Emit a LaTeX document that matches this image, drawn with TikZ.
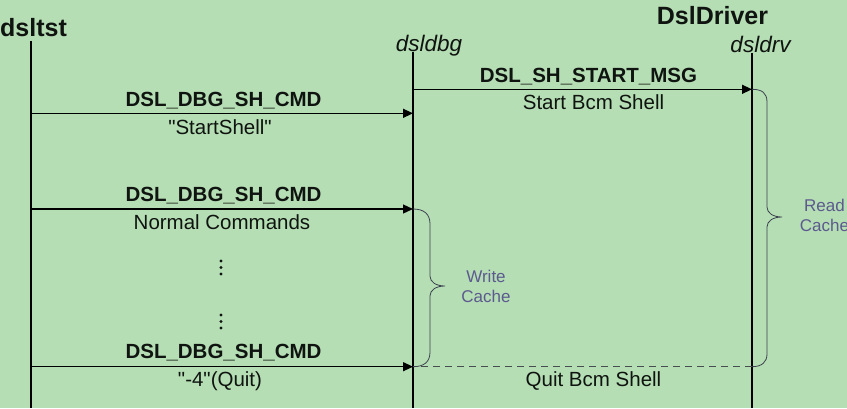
\documentclass[tikz,border=0pt]{standalone}
\usepackage{fontspec}
\setmainfont{Liberation Sans}[Ligatures=TeXOff]
\usetikzlibrary{arrows.meta}
\definecolor{bgc}{RGB}{181,222,180}
\definecolor{txt}{RGB}{16,20,16}
\definecolor{bracec}{RGB}{60,66,80}
\definecolor{bracetxt}{RGB}{92,90,142}
\definecolor{dashc}{RGB}{70,78,80}
\newcommand{\sq}{\char34}
\tikzset{
  lbl/.style={inner sep=0pt, anchor=base, text=txt, font=\fontsize{20.5}{22}\selectfont},
  blbl/.style={lbl, font=\fontsize{20.5}{22}\selectfont\bfseries},
  hdr/.style={inner sep=0pt, anchor=base, text=txt, font=\fontsize{25}{28}\selectfont\bfseries},
  ihdr/.style={inner sep=0pt, anchor=base, text=txt, font=\fontsize{22.5}{25}\selectfont\itshape},
  lifeline/.style={draw=black, line width=1.5pt},
  msg/.style={draw=black, line width=1.3pt, -{Triangle[length=10pt,width=9pt]}},
  reply/.style={draw=dashc, line width=1.3pt, dash pattern=on 7pt off 5pt},
  bracel/.style={draw=bracec, line width=0.8pt},
  bracetext/.style={inner sep=0pt, align=center, text=bracetxt, font=\fontsize{17}{20}\selectfont},
  vdot/.style={fill=txt, draw=none, circle, inner sep=0pt, minimum size=3.4pt}
}
\begin{document}
\begin{tikzpicture}[x=1pt,y=-1pt]
\fill[bgc] (0,0) rectangle (847,408);
\useasboundingbox (0,0) rectangle (847,408);

% headers
\node[hdr, anchor=base west] (hdsltst) at (0,36.5) {dsltst};
\node[hdr] (hdrv) at (712.5,24) {DslDriver};
\node[ihdr] (hdbg) at (429,51.7) {dsldbg};
\node[ihdr] (hdrvi) at (760.5,52.5) {dsldrv};

% lifelines
\coordinate (tTop) at (31,40.7);
\coordinate (tBot) at (31,408);
\coordinate (gTop) at (413,51.7);
\coordinate (gBot) at (413,408);
\coordinate (dTop) at (752,52.7);
\coordinate (dBot) at (752,408);
\draw[lifeline] (tTop) -- (tBot);
\draw[lifeline] (gTop) -- (gBot);
\draw[lifeline] (dTop) -- (dBot);

% message points
\coordinate (t1) at (31,113.3);
\coordinate (g1) at (413,113.3);
\coordinate (g2) at (413,89.3);
\coordinate (d2) at (752,89.3);
\coordinate (t3) at (31,209);
\coordinate (g3) at (413,209);
\coordinate (t5) at (31,366.7);
\coordinate (g5) at (413,366.7);
\coordinate (d5) at (752,366.7);

% replies / braces first (under arrows)
\draw[reply] (d5) -- (g5);

\draw[bracel] (g3) .. controls (424,209) and (430,214) .. (430,224) -- (430,276)
  .. controls (430,282) and (436,286) .. (445,286)
  .. controls (436,286) and (430,290) .. (430,296) -- (430,352)
  .. controls (430,362) and (424,366.7) .. (g5);
\draw[bracel] (d2) .. controls (762,89.3) and (767,93) .. (767,102) -- (767,207)
  .. controls (767,213) and (773,217) .. (782,217)
  .. controls (773,217) and (767,221) .. (767,227) -- (767,354)
  .. controls (767,362) and (762,366.7) .. (d5);

% messages
\draw[msg] (t1) -- (g1);
\draw[msg] (g2) -- (d2);
\draw[msg] (t3) -- (g3);
\draw[msg] (t5) -- (g5);

% labels
\node[blbl] (m1a) at (223.5,106) {DSL\_DBG\_SH\_CMD};
\node[lbl] (m1b) at (220,134.5) {\sq StartShell\sq};
\node[blbl] (m2a) at (588.5,82.5) {DSL\_SH\_START\_MSG};
\node[lbl] (m2b) at (593.5,109) {Start Bcm Shell};
\node[blbl] (m3a) at (223.5,201.5) {DSL\_DBG\_SH\_CMD};
\node[lbl] (m3b) at (222,229) {Normal Commands};
\node[blbl] (m5a) at (223.5,358.5) {DSL\_DBG\_SH\_CMD};
\node[lbl] (m5b) at (220,386) {\sq-4\sq(Quit)};
\node[lbl] (m6b) at (593.5,386.5) {Quit Bcm Shell};

% vdots
\node[vdot] (v1) at (221,261) {};
\node[vdot] (v2) at (221,267.5) {};
\node[vdot] (v3) at (221,274) {};
\node[vdot] (v4) at (221,315) {};
\node[vdot] (v5) at (221,321.5) {};
\node[vdot] (v6) at (221,328) {};

% brace texts
\node[bracetext] (wc) at (486,286) {Write\\Cache};
\node[bracetext] (rc) at (824.5,215) {Read\\Cache};
\end{tikzpicture}
\end{document}
